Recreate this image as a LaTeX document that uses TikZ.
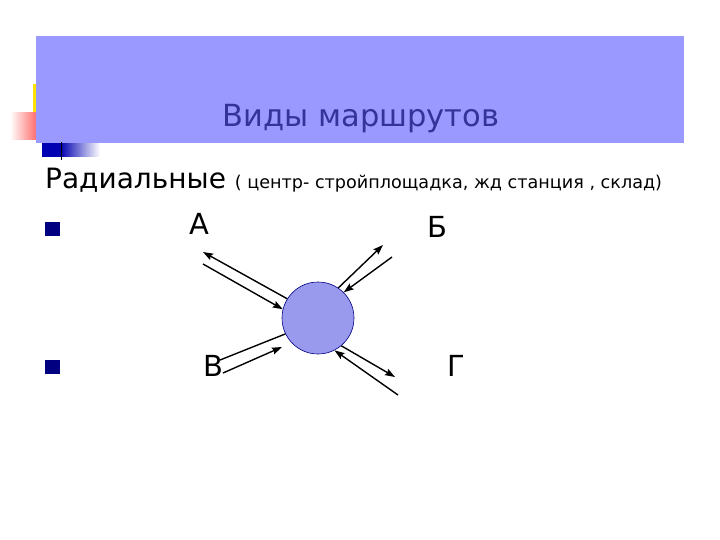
\documentclass[tikz,border=0pt]{standalone}
\usepackage{fontspec}
\setmainfont{DejaVu Sans}
\usetikzlibrary{arrows.meta}

\definecolor{slideblue}{HTML}{9999FF}
\definecolor{titleblue}{HTML}{333399}
\definecolor{bulletnavy}{HTML}{000080}
\definecolor{hubblue}{HTML}{9999EE}

\tikzset{
	flow/.style={line width=1.4pt, -{Stealth[length=10pt,width=7pt,inset=1.5pt]}},
	plainflow/.style={line width=1.4pt},
	pointname/.style={anchor=base, inner sep=0pt, font=\fontsize{29}{34}\selectfont},
}

\begin{document}
\begin{tikzpicture}[x=1pt,y=-1pt]

% parameters %{{{2

	\def\hubradius{36}

% frame %{{{2

	\useasboundingbox (0,0) rectangle (720,540);
	\fill[white] (0,0) rectangle (720,540);

% slide decoration %{{{2

	\fill[yellow!85!orange] (33,84) rectangle (40,114);
	\shade[left color=white, right color=red!65] (10,113) rectangle (40,140);
	\fill[blue!70!black] (42,142) rectangle (60,157);
	\shade[left color=blue!70!black, right color=white] (60,142) rectangle (100,157);
	\fill[slideblue] (36,36) rectangle (684,143);
	\draw[line width=1pt] (61,142) -- (61,160);

% title and text %{{{2

	\node[anchor=base, inner sep=0pt, text=titleblue, font=\fontsize{30.5}{36}\selectfont]
		(title) at (361,127) {Виды маршрутов};

	\node[anchor=base west, inner sep=0pt, font=\fontsize{28}{34}\selectfont]
		(kind) at (45,189) {Радиальные {\fontsize{17.6}{20}\selectfont ( центр- стройплощадка, жд станция , склад)}};

	\foreach \y in {222,360} { \fill[bulletnavy] (45,\y) rectangle (60,\y+14); }

% hub %{{{2

	\node[circle, fill=hubblue, draw=bulletnavy, line width=0.6pt,
		minimum size=2*\hubradius pt, inner sep=0pt] (hub) at (318,318) {};

% free ends %{{{2

	\coordinate (a1) at (203,252);
	\coordinate (a2) at (203,264);
	\coordinate (b1) at (383,245);
	\coordinate (b2) at (392,257);
	\coordinate (v1) at (220,360);
	\coordinate (v2) at (223,373);
	\coordinate (v3) at (282,347);
	\coordinate (g1) at (395,377);
	\coordinate (g2) at (398,395);

% routes %{{{2

	\draw[flow] (hub.148) -- (a1);
	\draw[flow] (a2) -- (hub.166);

	\draw[flow] (hub.56) -- (b1);
	\draw[flow] (b2) -- (hub.45);

	\draw[plainflow] (hub.206) -- (v1);
	\draw[flow] (v2) -- (v3);

	\draw[flow] (hub.310) -- (g1);
	\draw[flow] (g2) -- (hub.297);

% points labels %{{{2

	\node[pointname] (A) at (199,234) {А};
	\node[pointname] (B) at (437,237) {Б};
	\node[pointname] (V) at (213,376) {В};
	\node[pointname] (G) at (456,376) {Г};

\end{tikzpicture}
\end{document}
